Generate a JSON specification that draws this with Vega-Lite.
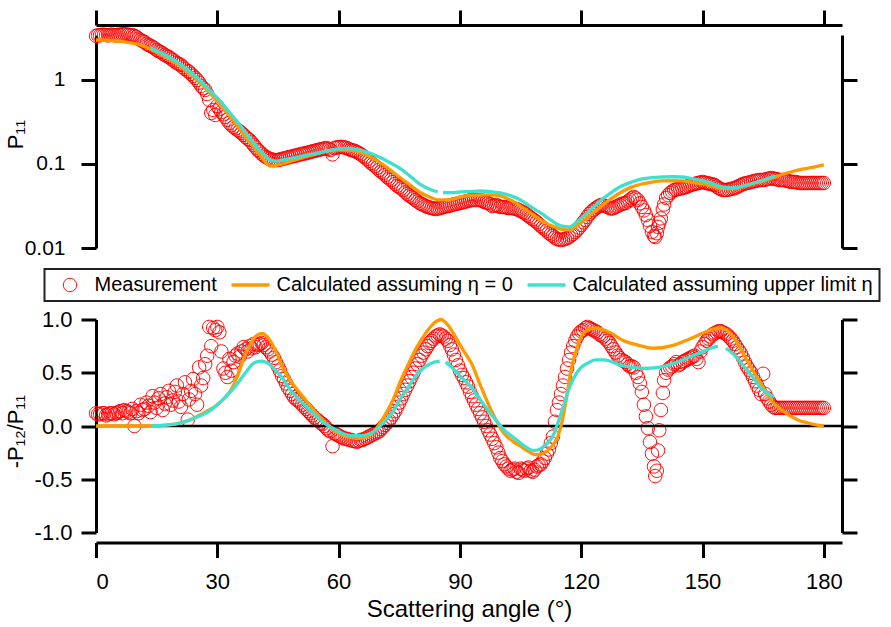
{
  "$schema": "https://vega.github.io/schema/vega-lite/v6.json",
  "background": "white",
  "padding": {"left": 4, "top": 8, "right": 2, "bottom": 2},
  "config": {
    "view": {"stroke": null},
    "font": "Liberation Sans",
    "axis": {"grid": false, "domainColor": "#000", "domainWidth": 3, "tickColor": "#000", "tickWidth": 3, "tickSize": 15, "labelColor": "#000", "titleColor": "#000", "titleFontWeight": "normal", "labelFont": "Liberation Sans", "titleFont": "Liberation Sans"},
    "legend": {"strokeWidth": 2}
  },
  "datasets": {
    "meas": [
      {"angle":0,"p11":3.35,"ratio":0.12},{"angle":1,"p11":3.4,"ratio":0.11},{"angle":2,"p11":3.45,"ratio":0.12},{"angle":3,"p11":3.4,"ratio":0.11},
      {"angle":4,"p11":3.45,"ratio":0.12},{"angle":5,"p11":3.4,"ratio":0.12},{"angle":6,"p11":3.45,"ratio":0.14},{"angle":7,"p11":3.5,"ratio":0.15},
      {"angle":8,"p11":3.45,"ratio":0.13},{"angle":9,"p11":3.4,"ratio":0.16},{"angle":9.5,"p11":3.35,"ratio":0.0},{"angle":10,"p11":3.25,"ratio":0.14},
      {"angle":11,"p11":2.99,"ratio":0.2},{"angle":12,"p11":2.83,"ratio":0.16},{"angle":13,"p11":2.61,"ratio":0.19},{"angle":14,"p11":2.47,"ratio":0.28},
      {"angle":15,"p11":2.28,"ratio":0.17},{"angle":16,"p11":2.15,"ratio":0.3},{"angle":17,"p11":1.99,"ratio":0.21},{"angle":18,"p11":1.88,"ratio":0.33},
      {"angle":19,"p11":1.73,"ratio":0.24},{"angle":20,"p11":1.59,"ratio":0.38},{"angle":21,"p11":1.51,"ratio":0.18},{"angle":22,"p11":1.35,"ratio":0.41},
      {"angle":22.7,"p11":1.28,"ratio":0.06},{"angle":23,"p11":1.25,"ratio":0.25},{"angle":24,"p11":1.12,"ratio":0.44},{"angle":25,"p11":1.0,"ratio":0.2},
      {"angle":25.5,"p11":0.93,"ratio":0.55},{"angle":26,"p11":0.85,"ratio":0.38},{"angle":27,"p11":0.76,"ratio":0.58},{"angle":27.5,"p11":0.68,"ratio":0.66},
      {"angle":28,"p11":0.578,"ratio":0.93},{"angle":28.5,"p11":0.405,"ratio":0.75},{"angle":29,"p11":0.44,"ratio":0.92},{"angle":29.5,"p11":0.383,"ratio":0.9},
      {"angle":30,"p11":0.49,"ratio":0.93},{"angle":30.5,"p11":0.45,"ratio":0.88},{"angle":31,"p11":0.416,"ratio":0.7},{"angle":31.5,"p11":0.39,"ratio":0.54},
      {"angle":32,"p11":0.363,"ratio":0.5},{"angle":32.5,"p11":0.335,"ratio":0.46},{"angle":33,"p11":0.308,"ratio":0.63},{"angle":34,"p11":0.276,"ratio":0.6},
      {"angle":35,"p11":0.254,"ratio":0.68},{"angle":36,"p11":0.234,"ratio":0.7},{"angle":37,"p11":0.21,"ratio":0.72},{"angle":38,"p11":0.193,"ratio":0.75},
      {"angle":39,"p11":0.168,"ratio":0.77},{"angle":40,"p11":0.147,"ratio":0.76},{"angle":41,"p11":0.132,"ratio":0.78},{"angle":42,"p11":0.121,"ratio":0.74},
      {"angle":43,"p11":0.115,"ratio":0.7},{"angle":44,"p11":0.1115,"ratio":0.64},{"angle":45,"p11":0.1115,"ratio":0.56},{"angle":46,"p11":0.115,"ratio":0.47},
      {"angle":47,"p11":0.118,"ratio":0.4},{"angle":48,"p11":0.121,"ratio":0.33},{"angle":49,"p11":0.125,"ratio":0.27},{"angle":50,"p11":0.128,"ratio":0.24},
      {"angle":51,"p11":0.132,"ratio":0.2},{"angle":52,"p11":0.135,"ratio":0.16},{"angle":53,"p11":0.139,"ratio":0.12},{"angle":54,"p11":0.143,"ratio":0.08},
      {"angle":55,"p11":0.147,"ratio":0.05},{"angle":56,"p11":0.151,"ratio":0.02},{"angle":57,"p11":0.155,"ratio":-0.02},{"angle":58,"p11":0.147,"ratio":-0.05},
      {"angle":58.5,"p11":0.13,"ratio":-0.19},{"angle":59,"p11":0.155,"ratio":-0.07},{"angle":60,"p11":0.159,"ratio":-0.09},{"angle":61,"p11":0.159,"ratio":-0.11},
      {"angle":62,"p11":0.155,"ratio":-0.12},{"angle":63,"p11":0.147,"ratio":-0.13},{"angle":64,"p11":0.143,"ratio":-0.14},{"angle":65,"p11":0.135,"ratio":-0.14},
      {"angle":66,"p11":0.125,"ratio":-0.13},{"angle":67,"p11":0.115,"ratio":-0.11},{"angle":68,"p11":0.1028,"ratio":-0.09},{"angle":69,"p11":0.0946,"ratio":-0.07},
      {"angle":70,"p11":0.0849,"ratio":-0.05},{"angle":71,"p11":0.0781,"ratio":-0.01},{"angle":72,"p11":0.07,"ratio":0.03},{"angle":73,"p11":0.0645,"ratio":0.08},
      {"angle":74,"p11":0.0578,"ratio":0.14},{"angle":75,"p11":0.0532,"ratio":0.22},{"angle":76,"p11":0.049,"ratio":0.3},{"angle":77,"p11":0.0439,"ratio":0.38},
      {"angle":78,"p11":0.0405,"ratio":0.46},{"angle":79,"p11":0.0373,"ratio":0.54},{"angle":80,"p11":0.0343,"ratio":0.62},{"angle":81,"p11":0.0325,"ratio":0.69},
      {"angle":82,"p11":0.0308,"ratio":0.75},{"angle":83,"p11":0.0299,"ratio":0.8},{"angle":84,"p11":0.0291,"ratio":0.84},{"angle":85,"p11":0.0299,"ratio":0.86},
      {"angle":86,"p11":0.0308,"ratio":0.84},{"angle":87,"p11":0.0316,"ratio":0.8},{"angle":88,"p11":0.0325,"ratio":0.72},{"angle":89,"p11":0.0334,"ratio":0.62},
      {"angle":90,"p11":0.0343,"ratio":0.52},{"angle":91,"p11":0.0353,"ratio":0.45},{"angle":92,"p11":0.0363,"ratio":0.37},{"angle":93,"p11":0.0373,"ratio":0.28},
      {"angle":94,"p11":0.0373,"ratio":0.2},{"angle":95,"p11":0.0373,"ratio":0.12},{"angle":96,"p11":0.0353,"ratio":0.04},{"angle":97,"p11":0.0343,"ratio":-0.04},
      {"angle":98,"p11":0.0316,"ratio":-0.12},{"angle":99,"p11":0.0325,"ratio":-0.2},{"angle":100,"p11":0.0308,"ratio":-0.3},{"angle":101,"p11":0.0308,"ratio":-0.36},
      {"angle":102,"p11":0.0299,"ratio":-0.4},{"angle":103,"p11":0.0299,"ratio":-0.41},{"angle":104,"p11":0.0291,"ratio":-0.43},{"angle":105,"p11":0.0276,"ratio":-0.4},
      {"angle":106,"p11":0.0261,"ratio":-0.42},{"angle":107,"p11":0.024,"ratio":-0.39},{"angle":108,"p11":0.0221,"ratio":-0.43},{"angle":109,"p11":0.0204,"ratio":-0.38},
      {"angle":110,"p11":0.0183,"ratio":-0.36},{"angle":111,"p11":0.0168,"ratio":-0.3},{"angle":112,"p11":0.0151,"ratio":-0.22},{"angle":113,"p11":0.0139,"ratio":-0.1},
      {"angle":113.5,"p11":0.0133,"ratio":0.04},{"angle":114,"p11":0.0128,"ratio":0.15},{"angle":115,"p11":0.01245,"ratio":0.3},{"angle":116,"p11":0.0128,"ratio":0.46},
      {"angle":117,"p11":0.0135,"ratio":0.62},{"angle":118,"p11":0.0147,"ratio":0.75},{"angle":119,"p11":0.0164,"ratio":0.84},{"angle":120,"p11":0.0188,"ratio":0.89},
      {"angle":121,"p11":0.0216,"ratio":0.92},{"angle":122,"p11":0.0254,"ratio":0.92},{"angle":123,"p11":0.0283,"ratio":0.9},{"angle":124,"p11":0.0308,"ratio":0.88},
      {"angle":125,"p11":0.0325,"ratio":0.85},{"angle":126,"p11":0.0316,"ratio":0.82},{"angle":127,"p11":0.0299,"ratio":0.78},{"angle":128,"p11":0.0299,"ratio":0.72},
      {"angle":129,"p11":0.0316,"ratio":0.66},{"angle":130,"p11":0.0334,"ratio":0.62},{"angle":131,"p11":0.0343,"ratio":0.6},{"angle":132,"p11":0.0373,"ratio":0.56},
      {"angle":133,"p11":0.0405,"ratio":0.55},{"angle":133.5,"p11":0.039,"ratio":0.5},{"angle":134,"p11":0.0373,"ratio":0.46},{"angle":134.5,"p11":0.034,"ratio":0.4},
      {"angle":135,"p11":0.0308,"ratio":0.32},{"angle":135.5,"p11":0.028,"ratio":0.2},{"angle":136,"p11":0.0247,"ratio":0.09},{"angle":136.5,"p11":0.0215,"ratio":-0.02},
      {"angle":137,"p11":0.0183,"ratio":-0.15},{"angle":137.5,"p11":0.0155,"ratio":-0.26},{"angle":138,"p11":0.0139,"ratio":-0.38},{"angle":138.3,"p11":0.0135,"ratio":-0.47},
      {"angle":138.7,"p11":0.015,"ratio":-0.42},{"angle":139,"p11":0.0178,"ratio":-0.23},{"angle":139.3,"p11":0.02,"ratio":-0.04},{"angle":139.7,"p11":0.0225,"ratio":0.15},
      {"angle":140.2,"p11":0.029,"ratio":0.31},{"angle":140.5,"p11":0.033,"ratio":0.43},{"angle":141,"p11":0.0394,"ratio":0.5},{"angle":142,"p11":0.0452,"ratio":0.55},
      {"angle":143,"p11":0.049,"ratio":0.58},{"angle":144,"p11":0.0504,"ratio":0.57},{"angle":145,"p11":0.0518,"ratio":0.6},{"angle":146,"p11":0.0532,"ratio":0.62},
      {"angle":147,"p11":0.0562,"ratio":0.64},{"angle":148,"p11":0.0578,"ratio":0.66},{"angle":149,"p11":0.0594,"ratio":0.6},{"angle":150,"p11":0.0611,"ratio":0.74},
      {"angle":151,"p11":0.0594,"ratio":0.8},{"angle":152,"p11":0.0578,"ratio":0.84},{"angle":153,"p11":0.0562,"ratio":0.87},{"angle":154,"p11":0.0518,"ratio":0.89},
      {"angle":155,"p11":0.049,"ratio":0.88},{"angle":156,"p11":0.049,"ratio":0.86},{"angle":157,"p11":0.0504,"ratio":0.82},{"angle":158,"p11":0.0518,"ratio":0.77},
      {"angle":159,"p11":0.0547,"ratio":0.71},{"angle":160,"p11":0.0578,"ratio":0.64},{"angle":161,"p11":0.0594,"ratio":0.56},{"angle":162,"p11":0.0611,"ratio":0.5},
      {"angle":163,"p11":0.0628,"ratio":0.42},{"angle":164,"p11":0.0645,"ratio":0.34},{"angle":165,"p11":0.0645,"ratio":0.49},{"angle":165.5,"p11":0.065,"ratio":0.3},
      {"angle":166,"p11":0.0663,"ratio":0.26},{"angle":167,"p11":0.0681,"ratio":0.2},{"angle":168,"p11":0.0663,"ratio":0.17},{"angle":169,"p11":0.0645,"ratio":0.17},
      {"angle":170,"p11":0.0645,"ratio":0.17},{"angle":171,"p11":0.0628,"ratio":0.17},{"angle":172,"p11":0.0611,"ratio":0.17},{"angle":173,"p11":0.0611,"ratio":0.17},
      {"angle":174,"p11":0.0594,"ratio":0.17},{"angle":175,"p11":0.0594,"ratio":0.17},{"angle":176,"p11":0.0594,"ratio":0.17},{"angle":177,"p11":0.0594,"ratio":0.17},
      {"angle":178,"p11":0.0594,"ratio":0.17},{"angle":179,"p11":0.0594,"ratio":0.17},{"angle":180,"p11":0.0594,"ratio":0.17},
      {"angle":0.5,"p11":3.4,"ratio":0.11},{"angle":1.5,"p11":3.45,"ratio":0.12},{"angle":2.5,"p11":3.42,"ratio":0.1},{"angle":3.5,"p11":3.44,"ratio":0.12},
      {"angle":4.5,"p11":3.42,"ratio":0.11},{"angle":5.5,"p11":3.45,"ratio":0.13},{"angle":6.5,"p11":3.5,"ratio":0.12},{"angle":7.5,"p11":3.48,"ratio":0.14},
      {"angle":8.5,"p11":3.42,"ratio":0.12},{"angle":10.5,"p11":3.1,"ratio":0.12},{"angle":11.5,"p11":2.9,"ratio":0.15},{"angle":12.5,"p11":2.7,"ratio":0.22},
      {"angle":13.5,"p11":2.55,"ratio":0.13},{"angle":14.5,"p11":2.38,"ratio":0.22},{"angle":15.5,"p11":2.2,"ratio":0.26},{"angle":16.5,"p11":2.07,"ratio":0.15},
      {"angle":17.5,"p11":1.93,"ratio":0.27},{"angle":18.5,"p11":1.8,"ratio":0.2},{"angle":19.5,"p11":1.66,"ratio":0.32},{"angle":20.5,"p11":1.55,"ratio":0.23},
      {"angle":21.5,"p11":1.42,"ratio":0.3},{"angle":23.5,"p11":1.18,"ratio":0.33},{"angle":24.5,"p11":1.06,"ratio":0.3},{"angle":26.5,"p11":0.8,"ratio":0.45},
      {"angle":33.5,"p11":0.29,"ratio":0.52},{"angle":34.5,"p11":0.265,"ratio":0.66},{"angle":35.5,"p11":0.245,"ratio":0.65},{"angle":36.5,"p11":0.222,"ratio":0.74},
      {"angle":37.5,"p11":0.2,"ratio":0.7},{"angle":38.5,"p11":0.18,"ratio":0.73},{"angle":39.5,"p11":0.157,"ratio":0.74},{"angle":40.5,"p11":0.14,"ratio":0.77},
      {"angle":41.5,"p11":0.126,"ratio":0.76},{"angle":42.5,"p11":0.118,"ratio":0.72},{"angle":43.5,"p11":0.113,"ratio":0.67},{"angle":44.5,"p11":0.111,"ratio":0.6},
      {"angle":45.5,"p11":0.113,"ratio":0.52},{"angle":46.5,"p11":0.116,"ratio":0.44},{"angle":47.5,"p11":0.12,"ratio":0.36},{"angle":48.5,"p11":0.123,"ratio":0.3},
      {"angle":49.5,"p11":0.126,"ratio":0.25},{"angle":50.5,"p11":0.13,"ratio":0.22},{"angle":51.5,"p11":0.133,"ratio":0.18},{"angle":52.5,"p11":0.137,"ratio":0.14},
      {"angle":53.5,"p11":0.141,"ratio":0.1},{"angle":54.5,"p11":0.145,"ratio":0.06},{"angle":55.5,"p11":0.149,"ratio":0.03},{"angle":56.5,"p11":0.153,"ratio":0.0},
      {"angle":57.5,"p11":0.151,"ratio":-0.04},{"angle":59.5,"p11":0.157,"ratio":-0.08},{"angle":60.5,"p11":0.16,"ratio":-0.1},{"angle":61.5,"p11":0.157,"ratio":-0.12},
      {"angle":62.5,"p11":0.151,"ratio":-0.13},{"angle":63.5,"p11":0.145,"ratio":-0.14},{"angle":64.5,"p11":0.139,"ratio":-0.15},{"angle":65.5,"p11":0.13,"ratio":-0.13},
      {"angle":66.5,"p11":0.12,"ratio":-0.12},{"angle":67.5,"p11":0.109,"ratio":-0.1},{"angle":68.5,"p11":0.099,"ratio":-0.08},{"angle":69.5,"p11":0.09,"ratio":-0.06},
      {"angle":70.5,"p11":0.081,"ratio":-0.03},{"angle":71.5,"p11":0.074,"ratio":0.01},{"angle":72.5,"p11":0.067,"ratio":0.05},{"angle":73.5,"p11":0.061,"ratio":0.11},
      {"angle":74.5,"p11":0.055,"ratio":0.18},{"angle":75.5,"p11":0.051,"ratio":0.26},{"angle":76.5,"p11":0.046,"ratio":0.34},{"angle":77.5,"p11":0.042,"ratio":0.42},
      {"angle":78.5,"p11":0.039,"ratio":0.5},{"angle":79.5,"p11":0.0358,"ratio":0.58},{"angle":80.5,"p11":0.0334,"ratio":0.66},{"angle":81.5,"p11":0.0316,"ratio":0.72},
      {"angle":82.5,"p11":0.0303,"ratio":0.78},{"angle":83.5,"p11":0.0295,"ratio":0.82},{"angle":84.5,"p11":0.0295,"ratio":0.85},{"angle":85.5,"p11":0.0303,"ratio":0.85},
      {"angle":86.5,"p11":0.0312,"ratio":0.82},{"angle":87.5,"p11":0.032,"ratio":0.76},{"angle":88.5,"p11":0.033,"ratio":0.67},{"angle":89.5,"p11":0.0338,"ratio":0.57},
      {"angle":90.5,"p11":0.0348,"ratio":0.48},{"angle":91.5,"p11":0.0358,"ratio":0.41},{"angle":92.5,"p11":0.0368,"ratio":0.32},{"angle":93.5,"p11":0.0373,"ratio":0.24},
      {"angle":94.5,"p11":0.0373,"ratio":0.16},{"angle":95.5,"p11":0.0363,"ratio":0.08},{"angle":96.5,"p11":0.0348,"ratio":0.0},{"angle":97.5,"p11":0.033,"ratio":-0.08},
      {"angle":98.5,"p11":0.032,"ratio":-0.16},{"angle":99.5,"p11":0.0316,"ratio":-0.25},{"angle":100.5,"p11":0.0308,"ratio":-0.33},{"angle":101.5,"p11":0.0303,"ratio":-0.38},
      {"angle":102.5,"p11":0.0299,"ratio":-0.42},{"angle":103.5,"p11":0.0295,"ratio":-0.4},{"angle":104.5,"p11":0.0284,"ratio":-0.44},{"angle":105.5,"p11":0.0268,"ratio":-0.41},
      {"angle":106.5,"p11":0.025,"ratio":-0.4},{"angle":107.5,"p11":0.023,"ratio":-0.42},{"angle":108.5,"p11":0.0212,"ratio":-0.41},{"angle":109.5,"p11":0.0193,"ratio":-0.37},
      {"angle":110.5,"p11":0.0175,"ratio":-0.33},{"angle":111.5,"p11":0.016,"ratio":-0.26},{"angle":112.5,"p11":0.0145,"ratio":-0.16},{"angle":114.5,"p11":0.0126,"ratio":0.22},
      {"angle":115.5,"p11":0.0126,"ratio":0.38},{"angle":116.5,"p11":0.0131,"ratio":0.54},{"angle":117.5,"p11":0.0141,"ratio":0.69},{"angle":118.5,"p11":0.0155,"ratio":0.8},
      {"angle":119.5,"p11":0.0175,"ratio":0.87},{"angle":120.5,"p11":0.0202,"ratio":0.9},{"angle":121.5,"p11":0.0235,"ratio":0.93},{"angle":122.5,"p11":0.027,"ratio":0.91},
      {"angle":123.5,"p11":0.0295,"ratio":0.89},{"angle":124.5,"p11":0.0318,"ratio":0.86},{"angle":125.5,"p11":0.032,"ratio":0.84},{"angle":126.5,"p11":0.0308,"ratio":0.8},
      {"angle":127.5,"p11":0.0295,"ratio":0.75},{"angle":128.5,"p11":0.0308,"ratio":0.69},{"angle":129.5,"p11":0.0325,"ratio":0.64},{"angle":130.5,"p11":0.034,"ratio":0.61},
      {"angle":131.5,"p11":0.0358,"ratio":0.58},{"angle":132.5,"p11":0.039,"ratio":0.56},{"angle":141.5,"p11":0.0425,"ratio":0.53},{"angle":142.5,"p11":0.047,"ratio":0.56},
      {"angle":143.5,"p11":0.0497,"ratio":0.6},{"angle":144.5,"p11":0.051,"ratio":0.58},{"angle":145.5,"p11":0.0525,"ratio":0.61},{"angle":146.5,"p11":0.0547,"ratio":0.63},
      {"angle":147.5,"p11":0.057,"ratio":0.65},{"angle":148.5,"p11":0.0586,"ratio":0.63},{"angle":149.5,"p11":0.0603,"ratio":0.7},{"angle":150.5,"p11":0.06,"ratio":0.77},
      {"angle":151.5,"p11":0.0586,"ratio":0.82},{"angle":152.5,"p11":0.057,"ratio":0.86},{"angle":153.5,"p11":0.054,"ratio":0.88},{"angle":154.5,"p11":0.0504,"ratio":0.89},
      {"angle":155.5,"p11":0.049,"ratio":0.87},{"angle":156.5,"p11":0.0497,"ratio":0.84},{"angle":157.5,"p11":0.051,"ratio":0.8},{"angle":158.5,"p11":0.053,"ratio":0.74},
      {"angle":159.5,"p11":0.056,"ratio":0.68},{"angle":160.5,"p11":0.0586,"ratio":0.6},{"angle":161.5,"p11":0.06,"ratio":0.53},{"angle":162.5,"p11":0.062,"ratio":0.46},
      {"angle":163.5,"p11":0.0636,"ratio":0.38},{"angle":164.5,"p11":0.0645,"ratio":0.3},{"angle":166.5,"p11":0.067,"ratio":0.23},{"angle":167.5,"p11":0.067,"ratio":0.18},
      {"angle":168.5,"p11":0.0655,"ratio":0.17},{"angle":169.5,"p11":0.0645,"ratio":0.17},{"angle":170.5,"p11":0.0636,"ratio":0.17},{"angle":171.5,"p11":0.062,"ratio":0.17},
      {"angle":172.5,"p11":0.0611,"ratio":0.17},{"angle":173.5,"p11":0.06,"ratio":0.17},{"angle":174.5,"p11":0.0594,"ratio":0.17},{"angle":175.5,"p11":0.0594,"ratio":0.17},
      {"angle":176.5,"p11":0.0594,"ratio":0.17},{"angle":177.5,"p11":0.0594,"ratio":0.17},{"angle":178.5,"p11":0.0594,"ratio":0.17},{"angle":179.5,"p11":0.0594,"ratio":0.17}
    ],
    "calcTop": [
      {"angle":0,"series":"η = 0","part":"a","p11":2.99},{"angle":2.5,"series":"η = 0","part":"a","p11":2.97},{"angle":5,"series":"η = 0","part":"a","p11":2.91},
      {"angle":7.5,"series":"η = 0","part":"a","p11":2.82},{"angle":10,"series":"η = 0","part":"a","p11":2.68},{"angle":12.5,"series":"η = 0","part":"a","p11":2.45},
      {"angle":15,"series":"η = 0","part":"a","p11":2.15},{"angle":17.5,"series":"η = 0","part":"a","p11":1.86},{"angle":20,"series":"η = 0","part":"a","p11":1.55},
      {"angle":22.5,"series":"η = 0","part":"a","p11":1.26},{"angle":25,"series":"η = 0","part":"a","p11":1.0},{"angle":27.5,"series":"η = 0","part":"a","p11":0.76},
      {"angle":30,"series":"η = 0","part":"a","p11":0.562},{"angle":32.5,"series":"η = 0","part":"a","p11":0.4},{"angle":35,"series":"η = 0","part":"a","p11":0.283},
      {"angle":37.5,"series":"η = 0","part":"a","p11":0.195},{"angle":40,"series":"η = 0","part":"a","p11":0.139},{"angle":41.5,"series":"η = 0","part":"a","p11":0.111},
      {"angle":43,"series":"η = 0","part":"a","p11":0.0946},{"angle":44.5,"series":"η = 0","part":"a","p11":0.096},{"angle":46,"series":"η = 0","part":"a","p11":0.1},
      {"angle":48,"series":"η = 0","part":"a","p11":0.107},{"angle":50,"series":"η = 0","part":"a","p11":0.115},{"angle":52.5,"series":"η = 0","part":"a","p11":0.125},
      {"angle":55,"series":"η = 0","part":"a","p11":0.135},{"angle":57.5,"series":"η = 0","part":"a","p11":0.143},{"angle":60,"series":"η = 0","part":"a","p11":0.147},
      {"angle":62.5,"series":"η = 0","part":"a","p11":0.146},{"angle":65,"series":"η = 0","part":"a","p11":0.139},{"angle":67.5,"series":"η = 0","part":"a","p11":0.124},
      {"angle":70,"series":"η = 0","part":"a","p11":0.1057},{"angle":72.5,"series":"η = 0","part":"a","p11":0.087},{"angle":75,"series":"η = 0","part":"a","p11":0.07},
      {"angle":77.5,"series":"η = 0","part":"a","p11":0.057},{"angle":80,"series":"η = 0","part":"a","p11":0.0464},{"angle":82.5,"series":"η = 0","part":"a","p11":0.0405},
      {"angle":85,"series":"η = 0","part":"a","p11":0.0373},{"angle":87.5,"series":"η = 0","part":"a","p11":0.0375},{"angle":90,"series":"η = 0","part":"a","p11":0.0405},
      {"angle":92.5,"series":"η = 0","part":"a","p11":0.0422},{"angle":95,"series":"η = 0","part":"a","p11":0.0428},{"angle":97.5,"series":"η = 0","part":"a","p11":0.0428},
      {"angle":100,"series":"η = 0","part":"a","p11":0.0416},{"angle":102.5,"series":"η = 0","part":"a","p11":0.0373},{"angle":105,"series":"η = 0","part":"a","p11":0.0316},
      {"angle":107.5,"series":"η = 0","part":"a","p11":0.026},{"angle":110,"series":"η = 0","part":"a","p11":0.0216},{"angle":112.5,"series":"η = 0","part":"a","p11":0.0185},
      {"angle":115,"series":"η = 0","part":"a","p11":0.0168},{"angle":117,"series":"η = 0","part":"a","p11":0.0164},{"angle":119,"series":"η = 0","part":"a","p11":0.0185},
      {"angle":121,"series":"η = 0","part":"a","p11":0.022},{"angle":123,"series":"η = 0","part":"a","p11":0.0266},{"angle":125,"series":"η = 0","part":"a","p11":0.0316},
      {"angle":127.5,"series":"η = 0","part":"a","p11":0.039},{"angle":130,"series":"η = 0","part":"a","p11":0.0464},{"angle":132.5,"series":"η = 0","part":"a","p11":0.053},
      {"angle":135,"series":"η = 0","part":"a","p11":0.0578},{"angle":137.5,"series":"η = 0","part":"a","p11":0.061},{"angle":140,"series":"η = 0","part":"a","p11":0.0628},
      {"angle":142.5,"series":"η = 0","part":"a","p11":0.0632},{"angle":145,"series":"η = 0","part":"a","p11":0.0628},{"angle":147.5,"series":"η = 0","part":"a","p11":0.0605},
      {"angle":150,"series":"η = 0","part":"a","p11":0.0578},{"angle":152.5,"series":"η = 0","part":"a","p11":0.054},{"angle":155,"series":"η = 0","part":"a","p11":0.0508},
      {"angle":157.5,"series":"η = 0","part":"a","p11":0.0505},{"angle":160,"series":"η = 0","part":"a","p11":0.054},{"angle":162.5,"series":"η = 0","part":"a","p11":0.0585},
      {"angle":165,"series":"η = 0","part":"a","p11":0.0628},{"angle":167.5,"series":"η = 0","part":"a","p11":0.069},{"angle":170,"series":"η = 0","part":"a","p11":0.076},
      {"angle":172.5,"series":"η = 0","part":"a","p11":0.082},{"angle":175,"series":"η = 0","part":"a","p11":0.0872},{"angle":177.5,"series":"η = 0","part":"a","p11":0.092},
      {"angle":180,"series":"η = 0","part":"a","p11":0.0973},
      {"angle":13.5,"series":"upper limit η","part":"a","p11":2.4},{"angle":15,"series":"upper limit η","part":"a","p11":2.21},{"angle":17.5,"series":"upper limit η","part":"a","p11":1.93},
      {"angle":20,"series":"upper limit η","part":"a","p11":1.64},{"angle":22.5,"series":"upper limit η","part":"a","p11":1.33},{"angle":25,"series":"upper limit η","part":"a","p11":1.06},
      {"angle":27.5,"series":"upper limit η","part":"a","p11":0.81},{"angle":30,"series":"upper limit η","part":"a","p11":0.611},{"angle":32.5,"series":"upper limit η","part":"a","p11":0.44},
      {"angle":35,"series":"upper limit η","part":"a","p11":0.316},{"angle":37.5,"series":"upper limit η","part":"a","p11":0.22},{"angle":40,"series":"upper limit η","part":"a","p11":0.155},
      {"angle":41.5,"series":"upper limit η","part":"a","p11":0.128},{"angle":43,"series":"upper limit η","part":"a","p11":0.1115},{"angle":44.5,"series":"upper limit η","part":"a","p11":0.108},
      {"angle":46,"series":"upper limit η","part":"a","p11":0.1115},{"angle":48,"series":"upper limit η","part":"a","p11":0.116},{"angle":50,"series":"upper limit η","part":"a","p11":0.121},
      {"angle":52.5,"series":"upper limit η","part":"a","p11":0.128},{"angle":55,"series":"upper limit η","part":"a","p11":0.135},{"angle":57.5,"series":"upper limit η","part":"a","p11":0.144},
      {"angle":60,"series":"upper limit η","part":"a","p11":0.151},{"angle":62.5,"series":"upper limit η","part":"a","p11":0.152},{"angle":65,"series":"upper limit η","part":"a","p11":0.147},
      {"angle":67.5,"series":"upper limit η","part":"a","p11":0.136},{"angle":70,"series":"upper limit η","part":"a","p11":0.121},{"angle":72.5,"series":"upper limit η","part":"a","p11":0.105},
      {"angle":75,"series":"upper limit η","part":"a","p11":0.0896},{"angle":77.5,"series":"upper limit η","part":"a","p11":0.073},{"angle":80,"series":"upper limit η","part":"a","p11":0.0578},
      {"angle":82.5,"series":"upper limit η","part":"a","p11":0.05},{"angle":84.5,"series":"upper limit η","part":"a","p11":0.0464},
      {"angle":85.8,"series":"upper limit η","part":"b","p11":0.0455},{"angle":88,"series":"upper limit η","part":"b","p11":0.0455},{"angle":90,"series":"upper limit η","part":"b","p11":0.0464},
      {"angle":92.5,"series":"upper limit η","part":"b","p11":0.047},{"angle":95,"series":"upper limit η","part":"b","p11":0.0477},{"angle":97.5,"series":"upper limit η","part":"b","p11":0.047},
      {"angle":100,"series":"upper limit η","part":"b","p11":0.0452},{"angle":102.5,"series":"upper limit η","part":"b","p11":0.042},{"angle":105,"series":"upper limit η","part":"b","p11":0.0373},
      {"angle":107.5,"series":"upper limit η","part":"b","p11":0.031},{"angle":110,"series":"upper limit η","part":"b","p11":0.0261},{"angle":112.5,"series":"upper limit η","part":"b","p11":0.0215},
      {"angle":115,"series":"upper limit η","part":"b","p11":0.0183},{"angle":117,"series":"upper limit η","part":"b","p11":0.0178},{"angle":119,"series":"upper limit η","part":"b","p11":0.0205},
      {"angle":121,"series":"upper limit η","part":"b","p11":0.025},{"angle":123,"series":"upper limit η","part":"b","p11":0.0305},{"angle":125,"series":"upper limit η","part":"b","p11":0.0373},
      {"angle":127.5,"series":"upper limit η","part":"b","p11":0.046},{"angle":130,"series":"upper limit η","part":"b","p11":0.0547},{"angle":132.5,"series":"upper limit η","part":"b","p11":0.061},
      {"angle":135,"series":"upper limit η","part":"b","p11":0.0663},{"angle":137.5,"series":"upper limit η","part":"b","p11":0.069},{"angle":140,"series":"upper limit η","part":"b","p11":0.07},
      {"angle":142.5,"series":"upper limit η","part":"b","p11":0.0705},{"angle":145,"series":"upper limit η","part":"b","p11":0.07},{"angle":147.5,"series":"upper limit η","part":"b","p11":0.067},
      {"angle":150,"series":"upper limit η","part":"b","p11":0.0628},{"angle":152.5,"series":"upper limit η","part":"b","p11":0.058},{"angle":155,"series":"upper limit η","part":"b","p11":0.0532},
      {"angle":157.5,"series":"upper limit η","part":"b","p11":0.052},{"angle":160,"series":"upper limit η","part":"b","p11":0.0547},{"angle":162.5,"series":"upper limit η","part":"b","p11":0.059},
      {"angle":165,"series":"upper limit η","part":"b","p11":0.0645},{"angle":168,"series":"upper limit η","part":"b","p11":0.072}
    ],
    "calcBot": [
      {"angle":0,"series":"η = 0","part":"a","ratio":0},{"angle":5,"series":"η = 0","part":"a","ratio":0},{"angle":10,"series":"η = 0","part":"a","ratio":0},
      {"angle":14,"series":"η = 0","part":"a","ratio":0.0},{"angle":18,"series":"η = 0","part":"a","ratio":0.01},{"angle":22,"series":"η = 0","part":"a","ratio":0.04},
      {"angle":26,"series":"η = 0","part":"a","ratio":0.11},{"angle":28,"series":"η = 0","part":"a","ratio":0.15},{"angle":30,"series":"η = 0","part":"a","ratio":0.2},
      {"angle":32,"series":"η = 0","part":"a","ratio":0.27},{"angle":33.4,"series":"η = 0","part":"a","ratio":0.34},{"angle":35,"series":"η = 0","part":"a","ratio":0.47},
      {"angle":36.7,"series":"η = 0","part":"a","ratio":0.65},{"angle":38,"series":"η = 0","part":"a","ratio":0.75},{"angle":39.2,"series":"η = 0","part":"a","ratio":0.83},
      {"angle":40.2,"series":"η = 0","part":"a","ratio":0.86},{"angle":41.2,"series":"η = 0","part":"a","ratio":0.87},{"angle":42.5,"series":"η = 0","part":"a","ratio":0.83},
      {"angle":44,"series":"η = 0","part":"a","ratio":0.74},{"angle":45.2,"series":"η = 0","part":"a","ratio":0.64},{"angle":46.5,"series":"η = 0","part":"a","ratio":0.53},
      {"angle":48.2,"series":"η = 0","part":"a","ratio":0.42},{"angle":50,"series":"η = 0","part":"a","ratio":0.33},{"angle":51.5,"series":"η = 0","part":"a","ratio":0.26},
      {"angle":53.2,"series":"η = 0","part":"a","ratio":0.18},{"angle":55.5,"series":"η = 0","part":"a","ratio":0.08},{"angle":58.1,"series":"η = 0","part":"a","ratio":-0.02},
      {"angle":60.5,"series":"η = 0","part":"a","ratio":-0.08},{"angle":63.1,"series":"η = 0","part":"a","ratio":-0.11},{"angle":65,"series":"η = 0","part":"a","ratio":-0.115},
      {"angle":67.2,"series":"η = 0","part":"a","ratio":-0.1},{"angle":69,"series":"η = 0","part":"a","ratio":-0.04},{"angle":71.3,"series":"η = 0","part":"a","ratio":0.09},
      {"angle":73.5,"series":"η = 0","part":"a","ratio":0.25},{"angle":75.4,"series":"η = 0","part":"a","ratio":0.43},{"angle":77.5,"series":"η = 0","part":"a","ratio":0.6},
      {"angle":79.5,"series":"η = 0","part":"a","ratio":0.75},{"angle":81.5,"series":"η = 0","part":"a","ratio":0.87},{"angle":83.7,"series":"η = 0","part":"a","ratio":0.97},
      {"angle":85.3,"series":"η = 0","part":"a","ratio":1.0},{"angle":87,"series":"η = 0","part":"a","ratio":0.95},{"angle":89,"series":"η = 0","part":"a","ratio":0.83},
      {"angle":91,"series":"η = 0","part":"a","ratio":0.7},{"angle":92.7,"series":"η = 0","part":"a","ratio":0.6},{"angle":95.2,"series":"η = 0","part":"a","ratio":0.37},
      {"angle":97.7,"series":"η = 0","part":"a","ratio":0.15},{"angle":100.9,"series":"η = 0","part":"a","ratio":-0.07},{"angle":103,"series":"η = 0","part":"a","ratio":-0.14},
      {"angle":105,"series":"η = 0","part":"a","ratio":-0.19},{"angle":107,"series":"η = 0","part":"a","ratio":-0.24},{"angle":108.7,"series":"η = 0","part":"a","ratio":-0.27},
      {"angle":110.5,"series":"η = 0","part":"a","ratio":-0.26},{"angle":112.5,"series":"η = 0","part":"a","ratio":-0.2},{"angle":114.2,"series":"η = 0","part":"a","ratio":-0.1},
      {"angle":115.2,"series":"η = 0","part":"a","ratio":0.03},{"angle":116.3,"series":"η = 0","part":"a","ratio":0.25},{"angle":117.5,"series":"η = 0","part":"a","ratio":0.53},
      {"angle":118.7,"series":"η = 0","part":"a","ratio":0.7},{"angle":120,"series":"η = 0","part":"a","ratio":0.84},{"angle":121.5,"series":"η = 0","part":"a","ratio":0.9},
      {"angle":123.2,"series":"η = 0","part":"a","ratio":0.92},{"angle":125,"series":"η = 0","part":"a","ratio":0.91},{"angle":127.5,"series":"η = 0","part":"a","ratio":0.87},
      {"angle":130,"series":"η = 0","part":"a","ratio":0.81},{"angle":134,"series":"η = 0","part":"a","ratio":0.76},{"angle":138,"series":"η = 0","part":"a","ratio":0.73},
      {"angle":142,"series":"η = 0","part":"a","ratio":0.75},{"angle":146.4,"series":"η = 0","part":"a","ratio":0.81},{"angle":150,"series":"η = 0","part":"a","ratio":0.87},
      {"angle":152.5,"series":"η = 0","part":"a","ratio":0.91},{"angle":154.5,"series":"η = 0","part":"a","ratio":0.92},{"angle":156,"series":"η = 0","part":"a","ratio":0.9},
      {"angle":157.8,"series":"η = 0","part":"a","ratio":0.83},{"angle":159.5,"series":"η = 0","part":"a","ratio":0.72},{"angle":161.1,"series":"η = 0","part":"a","ratio":0.61},
      {"angle":162.8,"series":"η = 0","part":"a","ratio":0.5},{"angle":164.4,"series":"η = 0","part":"a","ratio":0.4},{"angle":166,"series":"η = 0","part":"a","ratio":0.3},
      {"angle":167.7,"series":"η = 0","part":"a","ratio":0.21},{"angle":170,"series":"η = 0","part":"a","ratio":0.14},{"angle":171.9,"series":"η = 0","part":"a","ratio":0.09},
      {"angle":174,"series":"η = 0","part":"a","ratio":0.05},{"angle":176,"series":"η = 0","part":"a","ratio":0.03},{"angle":178,"series":"η = 0","part":"a","ratio":0.01},
      {"angle":180,"series":"η = 0","part":"a","ratio":0.0},
      {"angle":13.6,"series":"upper limit η","part":"a","ratio":0.0},{"angle":18,"series":"upper limit η","part":"a","ratio":0.01},{"angle":21,"series":"upper limit η","part":"a","ratio":0.03},
      {"angle":23.5,"series":"upper limit η","part":"a","ratio":0.06},{"angle":26,"series":"upper limit η","part":"a","ratio":0.1},{"angle":28,"series":"upper limit η","part":"a","ratio":0.14},
      {"angle":30,"series":"upper limit η","part":"a","ratio":0.2},{"angle":32.5,"series":"upper limit η","part":"a","ratio":0.29},{"angle":35,"series":"upper limit η","part":"a","ratio":0.4},
      {"angle":37,"series":"upper limit η","part":"a","ratio":0.5},{"angle":39,"series":"upper limit η","part":"a","ratio":0.59},{"angle":40.8,"series":"upper limit η","part":"a","ratio":0.61},
      {"angle":42.5,"series":"upper limit η","part":"a","ratio":0.59},{"angle":44,"series":"upper limit η","part":"a","ratio":0.54},{"angle":46.5,"series":"upper limit η","part":"a","ratio":0.43},
      {"angle":48.2,"series":"upper limit η","part":"a","ratio":0.33},{"angle":50,"series":"upper limit η","part":"a","ratio":0.26},{"angle":53.2,"series":"upper limit η","part":"a","ratio":0.14},
      {"angle":56,"series":"upper limit η","part":"a","ratio":0.04},{"angle":58.1,"series":"upper limit η","part":"a","ratio":-0.01},{"angle":61,"series":"upper limit η","part":"a","ratio":-0.07},
      {"angle":63.1,"series":"upper limit η","part":"a","ratio":-0.09},{"angle":65.5,"series":"upper limit η","part":"a","ratio":-0.09},{"angle":67.2,"series":"upper limit η","part":"a","ratio":-0.08},
      {"angle":69.5,"series":"upper limit η","part":"a","ratio":-0.03},{"angle":71.3,"series":"upper limit η","part":"a","ratio":0.04},{"angle":73.5,"series":"upper limit η","part":"a","ratio":0.14},
      {"angle":75.4,"series":"upper limit η","part":"a","ratio":0.26},{"angle":77.5,"series":"upper limit η","part":"a","ratio":0.38},{"angle":79.5,"series":"upper limit η","part":"a","ratio":0.49},
      {"angle":81.5,"series":"upper limit η","part":"a","ratio":0.56},{"angle":83.7,"series":"upper limit η","part":"a","ratio":0.6},{"angle":85,"series":"upper limit η","part":"a","ratio":0.61},
      {"angle":86.5,"series":"upper limit η","part":"b","ratio":0.6},{"angle":88,"series":"upper limit η","part":"b","ratio":0.55},{"angle":90,"series":"upper limit η","part":"b","ratio":0.47},
      {"angle":92.7,"series":"upper limit η","part":"b","ratio":0.37},{"angle":94.8,"series":"upper limit η","part":"b","ratio":0.26},{"angle":96.9,"series":"upper limit η","part":"b","ratio":0.15},
      {"angle":99,"series":"upper limit η","part":"b","ratio":0.05},{"angle":101,"series":"upper limit η","part":"b","ratio":-0.04},{"angle":103,"series":"upper limit η","part":"b","ratio":-0.1},
      {"angle":105,"series":"upper limit η","part":"b","ratio":-0.16},{"angle":108.3,"series":"upper limit η","part":"b","ratio":-0.23},{"angle":110.8,"series":"upper limit η","part":"b","ratio":-0.19},
      {"angle":113.3,"series":"upper limit η","part":"b","ratio":-0.07},{"angle":114.5,"series":"upper limit η","part":"b","ratio":0.06},{"angle":115.8,"series":"upper limit η","part":"b","ratio":0.21},
      {"angle":117,"series":"upper limit η","part":"b","ratio":0.35},{"angle":118.3,"series":"upper limit η","part":"b","ratio":0.46},{"angle":120,"series":"upper limit η","part":"b","ratio":0.55},
      {"angle":121.6,"series":"upper limit η","part":"b","ratio":0.59},{"angle":123.5,"series":"upper limit η","part":"b","ratio":0.62},{"angle":125.7,"series":"upper limit η","part":"b","ratio":0.62},
      {"angle":129.8,"series":"upper limit η","part":"b","ratio":0.57},{"angle":133,"series":"upper limit η","part":"b","ratio":0.55},{"angle":135.6,"series":"upper limit η","part":"b","ratio":0.54},
      {"angle":140.6,"series":"upper limit η","part":"b","ratio":0.56},{"angle":143,"series":"upper limit η","part":"b","ratio":0.59},{"angle":146.4,"series":"upper limit η","part":"b","ratio":0.64},
      {"angle":149,"series":"upper limit η","part":"b","ratio":0.68},{"angle":152,"series":"upper limit η","part":"b","ratio":0.73},{"angle":153.8,"series":"upper limit η","part":"b","ratio":0.75},
      {"angle":155.8,"series":"upper limit η","part":"c","ratio":0.73},{"angle":157.8,"series":"upper limit η","part":"c","ratio":0.67},{"angle":160,"series":"upper limit η","part":"c","ratio":0.57},
      {"angle":161.1,"series":"upper limit η","part":"c","ratio":0.52},{"angle":162.8,"series":"upper limit η","part":"c","ratio":0.44},{"angle":164.4,"series":"upper limit η","part":"c","ratio":0.36},
      {"angle":166,"series":"upper limit η","part":"c","ratio":0.31},{"angle":167.7,"series":"upper limit η","part":"c","ratio":0.27}
    ]
  },
  "spacing": 71.5,
  "bounds": "flush",
  "resolve": {"scale": {"color": "independent", "shape": "independent", "strokeWidth": "independent"}, "legend": {"color": "independent", "shape": "independent", "strokeWidth": "independent"}},
  "vconcat": [
    {
      "width": 746,
      "height": 213,
      "resolve": {"axis": {"y": "independent"}},
      "layer": [
        {
          "data": {"name": "meas"},
          "mark": {"type": "point", "shape": "M-0.353,0A0.353,0.353,0,1,1,0.353,0A0.353,0.353,0,1,1,-0.353,0Z", "filled": false, "size": 1444, "strokeWidth": 1, "opacity": 1, "color": "#FF0000"},
          "encoding": {
            "x": {"field": "angle", "type": "quantitative", "scale": {"domain": [0, 184.5], "nice": false, "zero": false},
                  "axis": {"orient": "top", "offset": 10, "values": [0, 30, 60, 90, 120, 150, 180], "labels": false, "title": null}},
            "y": {"field": "p11", "type": "quantitative", "scale": {"type": "log", "domain": [0.01, 3.43], "nice": false},
                  "axis": {"orient": "left", "values": [0.01, 0.1, 1], "format": "~g", "labelFontSize": 21, "labelPadding": 16, "title": "P₁₁", "titleFontSize": 22, "titleAngle": 270, "titleAlign": "center", "titleBaseline": "alphabetic", "titleX": -73.5, "titleY": 99}}
          }
        },
        {
          "data": {"name": "calcTop"},
          "transform": [{"filter": "datum.series == 'η = 0'"}],
          "mark": {"type": "line", "color": "#FF9900", "strokeWidth": 3.3, "interpolate": "monotone"},
          "encoding": {
            "x": {"field": "angle", "type": "quantitative", "scale": {"domain": [0, 184.5], "nice": false, "zero": false},
                  "axis": {"orient": "top", "offset": 10, "values": [0, 30, 60, 90, 120, 150, 180], "labels": false, "title": null}},
            "y": {"field": "p11", "type": "quantitative", "scale": {"type": "log", "domain": [0.01, 3.43], "nice": false},
                  "axis": {"orient": "right", "values": [0.01, 0.1, 1], "labels": false, "title": null}}
          }
        },
        {
          "data": {"name": "calcTop"},
          "transform": [{"filter": "datum.series == 'upper limit η'"}],
          "mark": {"type": "line", "color": "#40E0D0", "strokeWidth": 3.3, "interpolate": "monotone"},
          "encoding": {
            "x": {"field": "angle", "type": "quantitative", "scale": {"domain": [0, 184.5], "nice": false, "zero": false},
                  "axis": {"orient": "top", "offset": 10, "values": [0, 30, 60, 90, 120, 150, 180], "labels": false, "title": null}},
            "y": {"field": "p11", "type": "quantitative", "scale": {"type": "log", "domain": [0.01, 3.43], "nice": false}, "axis": null},
            "detail": {"field": "part", "type": "nominal"}
          }
        }
      ]
    },
    {
      "width": 746,
      "height": 213,
      "resolve": {"axis": {"y": "independent"}},
      "layer": [
        {
          "data": {"name": "meas"},
          "mark": {"type": "point", "filled": false, "size": 1444, "opacity": 1},
          "encoding": {
            "x": {"field": "angle", "type": "quantitative", "scale": {"domain": [0, 184.5], "nice": false, "zero": false},
                  "axis": {"orient": "bottom", "offset": 10, "values": [0, 30, 60, 90, 120, 150, 180], "format": "d", "labelFontSize": 22, "labelPadding": 14, "title": "Scattering angle (°)", "titleFontSize": 24, "titlePadding": 5}},
            "y": {"field": "ratio", "type": "quantitative", "scale": {"domain": [-1, 1], "nice": false},
                  "axis": {"orient": "left", "values": [-1, -0.5, 0, 0.5, 1], "labelExpr": "replace(format(datum.value, '.1f'), '\u2212', '-')", "labelFontSize": 22, "labelPadding": 9, "title": "-P₁₂/P₁₁", "titleFontSize": 22, "titleAngle": 270, "titleAlign": "center", "titleBaseline": "alphabetic", "titleX": -73.5, "titleY": 111.5}},
            "color": {
              "datum": "Measurement", "type": "nominal",
              "scale": {"domain": ["Measurement", "η = 0", "upper limit η"], "range": ["#FF0000", "#FF9900", "#40E0D0"]},
              "legend": {
                "orient": "none", "legendX": -51.5, "legendY": -50.5, "direction": "horizontal", "title": null,
                "labelFontSize": 20, "labelColor": "#000", "labelLimit": 500, "labelOffset": 5,
                "symbolSize": 1444, "symbolStrokeWidth": 3.3, "clipHeight": 20,
                "columnPadding": 12, "padding": 6, "strokeColor": "#222",
                "labelExpr": "datum.value == 'Measurement' ? 'Measurement' : 'Calculated assuming ' + datum.value"
              }
            },
            "shape": {
              "datum": "Measurement", "type": "nominal",
              "scale": {"domain": ["Measurement", "η = 0", "upper limit η"], "range": ["M-0.353,0A0.353,0.353,0,1,1,0.353,0A0.353,0.353,0,1,1,-0.353,0Z", "stroke", "stroke"]},
              "legend": {"orient": "none", "legendX": -51.5, "legendY": -50.5, "direction": "horizontal", "title": null}
            },
            "strokeWidth": {
              "datum": "Measurement", "type": "nominal",
              "scale": {"type": "ordinal", "domain": ["Measurement", "η = 0", "upper limit η"], "range": [1, 3.3, 3.3]},
              "legend": {"orient": "none", "legendX": -51.5, "legendY": -50.5, "direction": "horizontal", "title": null}
            }
          }
        },
        {
          "data": {"values": [{}]},
          "mark": {"type": "rule", "color": "#000", "strokeWidth": 2.5},
          "encoding": {"y": {"datum": 0, "type": "quantitative", "scale": {"domain": [-1, 1], "nice": false}, "axis": null}}
        },
        {
          "data": {"name": "calcBot"},
          "transform": [{"filter": "datum.series == 'η = 0'"}],
          "mark": {"type": "line", "strokeWidth": 3.3, "interpolate": "monotone"},
          "encoding": {
            "x": {"field": "angle", "type": "quantitative", "scale": {"domain": [0, 184.5], "nice": false, "zero": false},
                  "axis": {"orient": "bottom", "offset": 10, "values": [0, 30, 60, 90, 120, 150, 180], "format": "d", "labelFontSize": 22, "labelPadding": 14, "title": "Scattering angle (°)", "titleFontSize": 24, "titlePadding": 5}},
            "y": {"field": "ratio", "type": "quantitative", "scale": {"domain": [-1, 1], "nice": false},
                  "axis": {"orient": "right", "values": [-1, -0.5, 0, 0.5, 1], "labels": false, "title": null}},
            "color": {"field": "series", "type": "nominal", "legend": null}
          }
        },
        {
          "data": {"name": "calcBot"},
          "transform": [{"filter": "datum.series == 'upper limit η'"}],
          "mark": {"type": "line", "strokeWidth": 3.3, "interpolate": "monotone"},
          "encoding": {
            "x": {"field": "angle", "type": "quantitative", "scale": {"domain": [0, 184.5], "nice": false, "zero": false},
                  "axis": {"orient": "bottom", "offset": 10, "values": [0, 30, 60, 90, 120, 150, 180], "format": "d", "labelFontSize": 22, "labelPadding": 14, "title": "Scattering angle (°)", "titleFontSize": 24, "titlePadding": 5}},
            "y": {"field": "ratio", "type": "quantitative", "scale": {"domain": [-1, 1], "nice": false}, "axis": null},
            "color": {"field": "series", "type": "nominal", "legend": null},
            "detail": {"field": "part", "type": "nominal"}
          }
        }
      ]
    }
  ]
}
